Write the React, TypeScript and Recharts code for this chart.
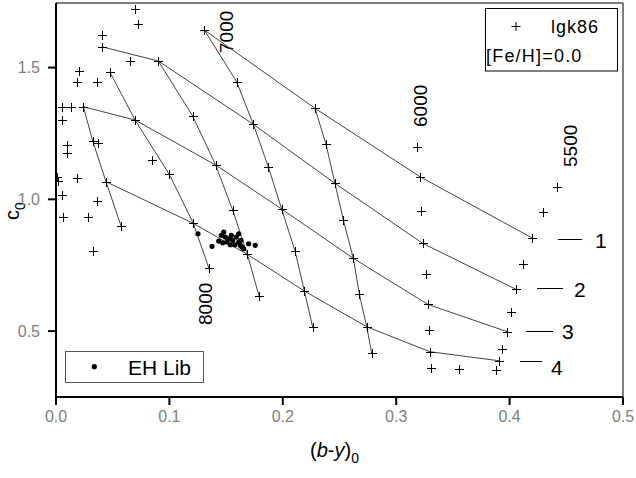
import React from 'react';
import { ScatterChart, Scatter, XAxis, YAxis, ReferenceLine, Customized } from 'recharts';

const FONT = "Arial, 'Liberation Sans', sans-serif";

// iso-gravity lines (labelled 1..4 on the right)
const gravity1: number[][] = [[0.1308, 1.6425], [0.2284, 1.3454], [0.3210, 1.0858], [0.4195, 0.8543]];
const gravity2: number[][] = [[0.0403, 1.5792], [0.0902, 1.5249], [0.1740, 1.2847], [0.2460, 1.0607], [0.3234, 0.8330], [0.4056, 0.6585]];
const gravity3: number[][] = [[0.0241, 1.3515], [0.0697, 1.3010], [0.1408, 1.1302], [0.1990, 0.9632], [0.2622, 0.7761], [0.3278, 0.6015], [0.3980, 0.4976]];
const gravity4: number[][] = [[0.0441, 1.0668], [0.1211, 0.9089], [0.1687, 0.7913], [0.2190, 0.6520], [0.2740, 0.5165], [0.3298, 0.4217], [0.3907, 0.3875]];

// iso-temperature lines
const tempA: number[][] = [[0.0241, 1.3515], [0.0324, 1.2213], [0.0441, 1.0668], [0.0573, 0.8998]];
const tempB: number[][] = [[0.0476, 1.4820], [0.0697, 1.3010], [0.0999, 1.0949], [0.1211, 0.9089], [0.1349, 0.7382]];
const tempC: number[][] = [[0.0902, 1.5249], [0.1205, 1.3162], [0.1408, 1.1302], [0.1558, 0.9594], [0.1687, 0.7913], [0.1790, 0.6342]];
const tempD: number[][] = [[0.1308, 1.6425], [0.1593, 1.4463], [0.1740, 1.2847], [0.1872, 1.1237], [0.1990, 0.9632], [0.2108, 0.8038], [0.2190, 0.6520], [0.2264, 0.5143]];
const tempE: number[][] = [[0.2284, 1.3454], [0.2381, 1.2088], [0.2460, 1.0607], [0.2534, 0.9215], [0.2622, 0.7761], [0.2675, 0.6406], [0.2740, 0.5165], [0.2784, 0.4156]];

// unconnected grid points
const col6000: number[][] = [[0.3181, 1.1996], [0.3216, 0.9568], [0.3263, 0.7154], [0.3292, 0.5040], [0.3304, 0.3587]];
const col5500: number[][] = [[0.4415, 1.0478], [0.4297, 0.9530], [0.4116, 0.7545], [0.4012, 0.5712], [0.3933, 0.4319], [0.3880, 0.3522], [0.3556, 0.3560]];
const hotPoints: number[][] = [
  [0.0701, 1.7222], [0.0719, 1.6664], [0.0408, 1.6236], [0.0653, 1.5260], [0.0207, 1.4881],
  [0.0188, 1.4463], [0.0359, 1.4463], [0.0050, 1.3503], [0.0130, 1.3492], [0.0050, 1.3010],
  [0.0370, 1.2148], [0.0101, 1.2080], [0.0101, 1.1757], [0.0848, 1.1492], [0.0010, 1.0858],
  [0.0020, 1.0700], [0.0181, 1.0820], [0.0050, 1.0183], [0.0359, 0.9936], [0.0064, 0.9329],
  [0.0280, 0.9329], [0.0329, 0.8038],
];

// EH Lib stars
const ehLib: number[][] = [
  [0.1252, 0.8695], [0.1376, 0.8217], [0.1435, 0.8418], [0.1458, 0.8634], [0.1479, 0.8759],
  [0.1493, 0.8569], [0.1508, 0.8380], [0.1523, 0.8505], [0.1546, 0.8634], [0.1558, 0.8444],
  [0.1576, 0.8277], [0.1590, 0.8569], [0.1611, 0.8695], [0.1611, 0.8380], [0.1625, 0.8255],
  [0.1640, 0.8190], [0.1655, 0.8125], [0.1699, 0.8315], [0.1757, 0.8255], [0.1537, 0.8277],
  [0.1470, 0.8353], [0.1631, 0.8444],
];

const xTicks = [0, 0.1, 0.2, 0.3, 0.4, 0.5];
const xTickLabels = ['0.0', '0.1', '0.2', '0.3', '0.4', '0.5'];
const xMinorTicks = [0.05, 0.15, 0.25, 0.35, 0.45];
const yTicks = [0.5, 1.0, 1.5];
const yTickLabels = ['0.5', '1.0', '1.5'];
const yMinorTicks = [0.75, 1.25];

const toXY = (arr: number[][]) => arr.map(([x, y]) => ({ x, y }));

const gridLines = [gravity1, gravity2, gravity3, gravity4, tempA, tempB, tempC, tempD, tempE];
const plusPoints = toXY([
  ...gravity1, ...gravity2, ...gravity3, ...gravity4,
  ...tempA, ...tempB, ...tempC, ...tempD, ...tempE,
  ...col6000, ...col5500, ...hotPoints,
]);

const PlusShape = (props: any) => {
  const { cx, cy } = props;
  if (cx == null || cy == null) return <g />;
  const x = Math.round(cx) + 0.5;
  const y = Math.round(cy) + 0.5;
  return (
    <path
      d={`M${x - 4.5},${y}H${x + 4.5}M${x},${y - 4.5}V${y + 4.5}`}
      stroke="#000"
      strokeWidth={1}
      fill="none"
    />
  );
};

const DotShape = (props: any) => {
  const { cx, cy } = props;
  if (cx == null || cy == null) return <g />;
  return <circle cx={cx} cy={cy} r={2.6} fill="#000" />;
};

const NoShape = () => <g />;

const Annotations = () => (
  <g fontFamily={FONT} fill="#000">
    {/* top-right legend */}
    <rect x={485.5} y={8.5} width={132} height={62.5} fill="#fff" stroke="#000" strokeWidth={1} />
    <path d="M511.5,26.5H520.5M516,22V31" stroke="#000" strokeWidth={1} />
    <text x={551} y={33} fontSize={18} letterSpacing={1}>lgk86</text>
    <text x={486} y={62} fontSize={18} letterSpacing={1.2}>[Fe/H]=0.0</text>

    {/* bottom-left legend */}
    <rect x={65.5} y={351.5} width={138} height={31} fill="#fff" stroke="#555" strokeWidth={1} />
    <circle cx={94.3} cy={366.7} r={2.6} fill="#000" />
    <text x={128} y={375} fontSize={21}>EH Lib</text>

    {/* temperature labels */}
    <text transform="translate(233,53) rotate(-90)" fontSize={19}>7000</text>
    <text transform="translate(426.5,127) rotate(-90)" fontSize={19}>6000</text>
    <text transform="translate(576.5,167) rotate(-90)" fontSize={19}>5500</text>
    <text transform="translate(211.5,325) rotate(-90)" fontSize={19}>8000</text>

    {/* gravity labels */}
    <path d="M558,239.5H582" stroke="#000" strokeWidth={1} />
    <text x={595} y={248} fontSize={21}>1</text>
    <path d="M537,288.5H563" stroke="#000" strokeWidth={1} />
    <text x={574} y={297} fontSize={21}>2</text>
    <path d="M526,331.5H553" stroke="#000" strokeWidth={1} />
    <text x={562} y={339} fontSize={21}>3</text>
    <path d="M520,361.5H542" stroke="#000" strokeWidth={1} />
    <text x={551} y={375} fontSize={21}>4</text>

    {/* axis titles */}
    <text x={310} y={457} fontSize={20}>
      (<tspan fontStyle="italic">b</tspan>-<tspan fontStyle="italic">y</tspan>)
      <tspan fontSize={14} dy={6}>0</tspan>
    </text>
    <text transform="translate(19,220) rotate(-90)" fontSize={20}>
      c<tspan fontSize={14} dy={6}>0</tspan>
    </text>
  </g>
);

export default function App() {
  return (
    <div style={{ position: 'absolute', left: 0, top: 0, width: 636, height: 478, background: '#fff' }}>
      <ScatterChart width={636} height={478} margin={{ top: 3, right: 13, bottom: 0, left: 0 }}>
        <XAxis
          xAxisId="minor"
          type="number"
          dataKey="x"
          domain={[0, 0.5]}
          ticks={xMinorTicks}
          height={0}
          axisLine={false}
          tickSize={5}
          tickLine={{ stroke: '#000', strokeWidth: 2 }}
          tick={NoShape as any}
          allowDataOverflow
        />
        <YAxis
          yAxisId="minor"
          type="number"
          dataKey="y"
          domain={[0.25, 1.745]}
          ticks={yMinorTicks}
          width={0}
          axisLine={false}
          tickSize={4}
          tickLine={{ stroke: '#000', strokeWidth: 2 }}
          tick={NoShape as any}
          allowDataOverflow
        />
        <XAxis
          type="number"
          dataKey="x"
          domain={[0, 0.5]}
          ticks={xTicks}
          interval={0}
          height={81}
          tickSize={8}
          tickMargin={6}
          tickFormatter={(v: number) => xTickLabels[xTicks.indexOf(v)] ?? String(v)}
          axisLine={{ stroke: '#000', strokeWidth: 2 }}
          tickLine={{ stroke: '#000', strokeWidth: 2 }}
          tick={{ fill: '#808080', fontSize: 16, fontFamily: FONT }}
          allowDataOverflow
        />
        <YAxis
          type="number"
          dataKey="y"
          domain={[0.25, 1.745]}
          ticks={yTicks}
          interval={0}
          width={56}
          tickSize={8}
          tickMargin={8}
          tickFormatter={(v: number) => yTickLabels[yTicks.indexOf(v)] ?? String(v)}
          axisLine={{ stroke: '#000', strokeWidth: 2 }}
          tickLine={{ stroke: '#000', strokeWidth: 2 }}
          tick={{ fill: '#808080', fontSize: 16, fontFamily: FONT }}
          allowDataOverflow
        />
        <ReferenceLine y={1.745} stroke="#000" strokeWidth={1} ifOverflow="visible" />
        <ReferenceLine x={0.5} stroke="#000" strokeWidth={1} ifOverflow="visible" />
        {gridLines.map((ln, i) => (
          <Scatter
            key={`ln${i}`}
            data={toXY(ln)}
            line={{ stroke: '#444', strokeWidth: 1 }}
            shape={NoShape as any}
            isAnimationActive={false}
          />
        ))}
        <Scatter data={plusPoints} shape={PlusShape as any} isAnimationActive={false} />
        <Scatter data={toXY(ehLib)} shape={DotShape as any} isAnimationActive={false} />
        <Customized component={Annotations} />
      </ScatterChart>
    </div>
  );
}
